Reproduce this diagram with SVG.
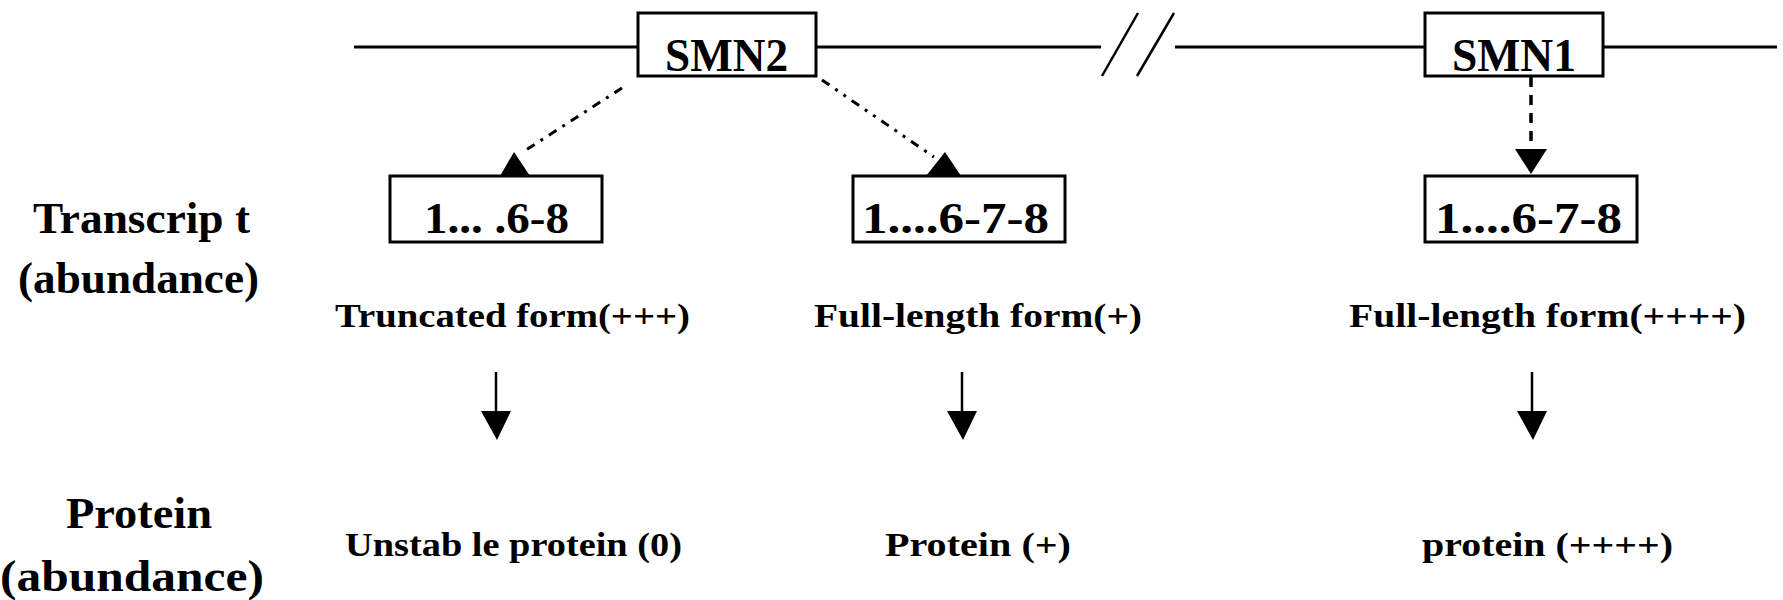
<svg xmlns="http://www.w3.org/2000/svg" width="1783" height="600" viewBox="0 0 1783 600">
  <style>
    .bg { fill: #ffffff; }
    .box { fill: #ffffff; stroke: #000000; stroke-width: 3; }
    .line { stroke: #000000; stroke-width: 3; fill: none; }
    .brk { stroke: #000000; stroke-width: 2.5; fill: none; }
    .solid { stroke: #000000; stroke-width: 2.5; fill: none; }
    .dash1 { stroke: #000000; stroke-width: 3; fill: none; stroke-dasharray: 9 7 3 7; }
    .dash2 { stroke: #000000; stroke-width: 3; fill: none; stroke-dasharray: 9 7 3 7 3 7; }
    .dashv { stroke: #000000; stroke-width: 3.5; fill: none; stroke-dasharray: 10 8; }
    .head { fill: #000000; }
    text { font-family: "Liberation Serif", "Times New Roman", serif; font-weight: bold; fill: #000000; }
    .gene { font-size: 46px; }
    .exon { font-size: 45px; }
    .axis { font-size: 45px; }
    .note { font-size: 34px; }
  </style>
  <rect class="bg" x="0" y="0" width="1783" height="600"/>

  <!-- chromosome backbone with a break -->
  <g id="chromosome">
    <line class="line" x1="354" y1="47" x2="638" y2="47"/>
    <line class="line" x1="816" y1="47" x2="1101" y2="47"/>
    <line class="line" x1="1175" y1="47" x2="1425" y2="47"/>
    <line class="line" x1="1603" y1="47" x2="1777" y2="47"/>
    <line class="brk" x1="1102" y1="76" x2="1138" y2="13"/>
    <line class="brk" x1="1137" y1="76" x2="1174" y2="13"/>
  </g>

  <!-- connectors -->
  <g id="connectors">
    <line class="dash1" x1="622" y1="88" x2="526" y2="150"/>
    <polygon class="head" points="500,176 530,176 514,152"/>
    <line class="dash2" x1="822" y1="80" x2="934" y2="157"/>
    <polygon class="head" points="926,176 961,176 945,152"/>
    <line class="dashv" x1="1531" y1="77" x2="1531" y2="149"/>
    <polygon class="head" points="1515,149 1547,149 1531,174"/>

    <line class="solid" x1="496" y1="372" x2="496" y2="412"/>
    <polygon class="head" points="481,411 511,411 497,440"/>
    <line class="solid" x1="962" y1="372" x2="962" y2="412"/>
    <polygon class="head" points="947,411 977,411 963,440"/>
    <line class="solid" x1="1532" y1="372" x2="1532" y2="412"/>
    <polygon class="head" points="1517,411 1547,411 1533,440"/>
  </g>

  <g id="smn2">
    <rect class="box" x="638" y="13" width="178" height="63"/>
    <text class="gene" x="665" y="71" textLength="123" lengthAdjust="spacingAndGlyphs">SMN2</text>
  </g>
  <g id="smn1">
    <rect class="box" x="1425" y="13" width="178" height="63"/>
    <text class="gene" x="1452" y="71" textLength="124" lengthAdjust="spacingAndGlyphs">SMN1</text>
  </g>

  <g id="transcript-truncated">
    <rect class="box" x="390" y="176" width="212" height="66"/>
    <text class="exon" x="424" y="233" textLength="145" lengthAdjust="spacingAndGlyphs">1... .6-8</text>
  </g>
  <g id="transcript-full-smn2">
    <rect class="box" x="853" y="176" width="212" height="66"/>
    <text class="exon" x="862" y="233" textLength="187" lengthAdjust="spacingAndGlyphs">1....6-7-8</text>
  </g>
  <g id="transcript-full-smn1">
    <rect class="box" x="1425" y="176" width="212" height="66"/>
    <text class="exon" x="1435" y="233" textLength="187" lengthAdjust="spacingAndGlyphs">1....6-7-8</text>
  </g>

  <!-- row labels -->
  <g id="label-transcript">
    <text class="axis" x="33" y="233" textLength="217" lengthAdjust="spacingAndGlyphs">Transcrip t</text>
    <text class="axis" x="18" y="293" textLength="241" lengthAdjust="spacingAndGlyphs">(abundance)</text>
  </g>
  <g id="label-protein">
    <text class="axis" x="66" y="528" textLength="146" lengthAdjust="spacingAndGlyphs">Protein</text>
    <text class="axis" x="0" y="591" textLength="264" lengthAdjust="spacingAndGlyphs">(abundance)</text>
  </g>

  <!-- transcript forms -->
  <g id="form-truncated">
    <text class="note" x="335" y="327" textLength="355" lengthAdjust="spacingAndGlyphs">Truncated form(+++)</text>
  </g>
  <g id="form-full-smn2">
    <text class="note" x="814" y="327" textLength="328" lengthAdjust="spacingAndGlyphs">Full-length form(+)</text>
  </g>
  <g id="form-full-smn1">
    <text class="note" x="1349" y="327" textLength="397" lengthAdjust="spacingAndGlyphs">Full-length form(++++)</text>
  </g>

  <!-- protein products -->
  <g id="protein-unstable">
    <text class="note" x="345" y="556" textLength="337" lengthAdjust="spacingAndGlyphs">Unstab le protein (0)</text>
  </g>
  <g id="protein-smn2">
    <text class="note" x="885" y="556" textLength="186" lengthAdjust="spacingAndGlyphs">Protein (+)</text>
  </g>
  <g id="protein-smn1">
    <text class="note" x="1422" y="556" textLength="251" lengthAdjust="spacingAndGlyphs">protein (++++)</text>
  </g>
</svg>
